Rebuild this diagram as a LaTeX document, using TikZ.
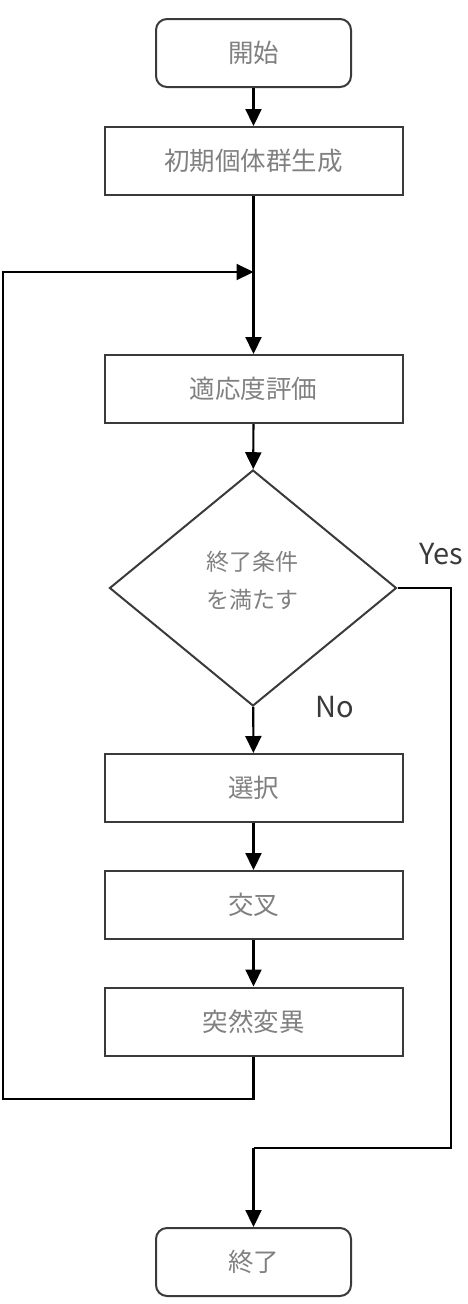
\documentclass[tikz,border=0pt]{standalone}
\usepackage{fontspec}
\newfontfamily\jp{Noto Sans CJK JP}
\usetikzlibrary{arrows.meta,shapes.geometric}
\definecolor{txt}{HTML}{808080}
\definecolor{edge}{HTML}{3A3A3A}
\tikzset{
  box/.style={draw=edge, line width=2pt, rectangle, minimum width=298pt, minimum height=68pt, inner sep=0pt, font=\jp\fontsize{25.5}{28}\selectfont, text=txt},
  term/.style={box, minimum width=195pt, rounded corners=11pt},
  cond/.style={draw=edge, line width=2pt, diamond, minimum width=287pt, minimum height=236pt, inner sep=0pt},
  condtext/.style={align=center, inner sep=0pt, font=\jp\fontsize{23}{38}\selectfont, text=txt},
  flow/.style={line width=2.2pt, draw=black, -{Triangle[length=17pt,width=16pt]}},
  link/.style={line width=2.2pt, draw=black},
  lbl/.style={font=\jp\fontsize{29}{32}\selectfont, text=edge, inner sep=0pt}
}
\begin{document}
\begin{tikzpicture}[x=1pt,y=-1pt]
\useasboundingbox (0,0) rectangle (467,1304);
\node[term] (start) at (253.5,53) {開始};
\node[box] (init) at (253.5,161) {初期個体群生成};
\node[box] (eval) at (253.5,389) {適応度評価};
\node[cond] (dia) at (253,588) {};
\node[condtext] (diatext) at (252,581) {終了条件\\を満たす};
\node[box] (sel) at (253.5,788) {選択};
\node[box] (cross) at (253.5,905) {交叉};
\node[box] (mut) at (253.5,1021.5) {突然変異};
\node[term] (fin) at (253.5,1262) {終了};
\coordinate (join) at (253.5,272);
\coordinate (lb) at (253.5,1099);
\coordinate (ll) at (3,1099);
\coordinate (lt) at (3,272);
\coordinate (yr) at (451,588);
\coordinate (yb) at (451,1148);
\coordinate (yl) at (253.5,1148);
\draw[flow] (start) -- (init);
\draw[flow] (init) -- (eval);
\draw[flow] (eval) -- (dia);
\draw[flow] (dia) -- (sel);
\draw[flow] (sel) -- (cross);
\draw[flow] (cross) -- (mut);
\draw[link] (mut.south) -- (lb) -- (ll) -- (lt) -- (join);
\draw[flow] (lt) -- (join);
\draw[link] (dia.east) -- (yr) -- (yb) -- (yl);
\draw[flow] (yl) -- (fin.north);
\node[lbl] (yes) at (441,554) {Yes};
\node[lbl] (no) at (335,707) {No};
\end{tikzpicture}
\end{document}
